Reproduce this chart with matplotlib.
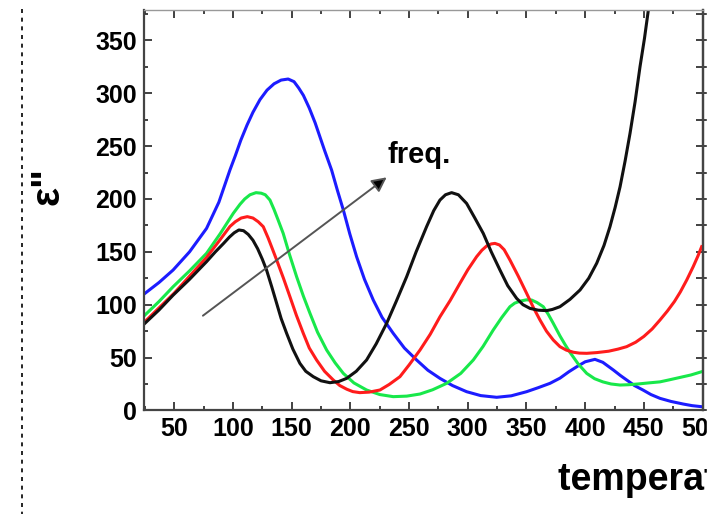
import numpy as np
import matplotlib
matplotlib.use('Agg')
import matplotlib.pyplot as plt
from matplotlib.ticker import MultipleLocator
from matplotlib.lines import Line2D
from matplotlib.patches import Rectangle

plt.rcParams['font.family'] = ['Liberation Sans', 'DejaVu Sans']
plt.rcParams['font.weight'] = 'bold'

# -------------------- Data -------------------- #
t_black = [25, 37, 49, 63, 77.5, 85, 92, 97, 101, 105, 109, 113, 117, 121, 125, 128.6,
           133, 137.2, 141, 145.7, 151, 157, 162, 168.4, 175, 182.6, 190, 196.8, 205,
           213.8, 222, 230.9, 239, 247.9, 256, 264.9, 271, 276.3, 281, 286.2, 292, 299,
           306, 313.2, 320, 327.4, 334, 341.6, 347, 353, 360, 367.2, 372, 378.5, 387,
           395.6, 403, 409.8, 416, 421.1, 425.5, 429.7, 434, 438.2, 442.5, 446.7, 450.5,
           453.8, 458]
eps_black = [82.4, 95, 109, 124, 140.7, 150, 158, 164, 168, 170.7, 170, 166.5, 161, 153,
             143, 132.8, 117, 101.3, 87, 72.9, 58, 44.5, 37, 31.9, 28, 26.2, 27.3, 30.3, 37,
             47.7, 63, 82.4, 103, 126.4, 150, 173.8, 189, 199, 204, 206, 204, 195.8,
             182, 167.4, 150, 132.8, 118, 106, 100, 96.5, 94.8, 94.4, 95.5, 98.1, 105,
             113.9, 125, 139.2, 156, 173.8, 192, 211.6, 236, 262.2, 292, 325.2, 352,
             378.8, 420]

t_red = [25, 37, 50, 63, 77.5, 88, 97.4, 102, 107, 112.2, 117, 121.5, 125.8, 130, 133.5,
         137.2, 143, 148.5, 154, 159.9, 165, 171.2, 178, 185.4, 191, 197, 202, 208, 216,
         225.2, 233, 242.2, 250, 259.3, 268, 276.3, 285, 293.3, 300, 307.5, 312, 316, 320,
         323.1, 327, 331, 335.9, 343, 350.1, 356, 361.5, 367, 372.8, 378.5, 384, 390, 395,
         401.3, 410, 420, 428, 435.3, 443, 450, 457, 463.7, 470, 476, 481, 486.5, 492, 496,
         499.2]
eps_red = [84, 97, 111, 127, 144.7, 160, 174, 178.5, 182, 183.3, 182, 178.5, 173.8, 163,
           153, 142.3, 125, 107.6, 90, 72.9, 59, 47.7, 37, 28.8, 23.5, 20, 17.8, 16.8, 17.3,
           19.3, 24.5, 31.9, 43, 57.1, 72, 88.6, 104, 120.2, 133, 145.4, 151.5, 155.5, 157.5,
           158, 156.5, 152, 142.3, 127, 110.8, 97, 85.5, 75, 66.6, 60.3, 57, 55, 54.2,
           54, 54.7, 56, 58, 60.3, 64.5, 70, 77, 85.5, 94, 103, 112, 123.4, 136, 146,
           154.9]

t_green = [25, 37, 49, 63, 77.5, 89, 100.3, 106, 110, 114.5, 119.6, 124, 127.5, 131.5, 135,
           138.5, 142.8, 148, 154.2, 160, 165.6, 172, 179.8, 187, 194, 203, 213.8, 225,
           236.5, 248, 259.3, 270, 282, 294, 304.7, 313, 321.7, 329, 335.9, 340, 345, 350,
           354.4, 359, 364.3, 368.5, 372.8, 378.5, 383, 387, 394, 401.3, 408, 415, 422,
           429.7, 437, 445, 454, 463.7, 472, 480, 490, 499.2]
eps_green = [90.2, 103, 117, 132, 148.6, 167, 186.5, 195, 200, 204, 206, 205.5, 204, 199,
             190, 180, 167.4, 148, 126.5, 108, 91.8, 74, 57.1, 45, 35, 26, 19.3, 15,
             13, 13.5, 15.5, 19.5, 25.6, 35, 47.7, 60.5, 76.1, 88, 98.1, 101.5, 103.5, 104.6,
             104.4, 102, 98.1, 91, 82.4, 70.5, 62, 55, 44, 35, 30, 27, 25,
             24, 24.3, 25, 26, 27, 29, 31, 33.5, 36.6]

t_blue = [25, 37, 49, 63, 77.5, 88, 97.4, 102, 106.7, 112, 117, 123, 129, 135, 141, 147,
          152, 156, 160, 165, 170, 174, 178, 184, 189, 194, 199.5, 205.3, 212, 219.5, 227,
          236.5, 246, 256.4, 266, 276.3, 287, 299, 311, 324.6, 337, 350.1, 360, 370, 378.5,
          386, 392.8, 400, 408.3, 415, 424, 430, 435.3, 442, 449.2, 456, 463.7, 473, 483.6,
          491, 499.2]
eps_blue = [110.7, 121, 132.8, 150, 172.2, 197, 227.4, 241, 255.7, 270, 282, 294, 303, 309,
            312.5, 313.5, 311, 305, 298, 286, 272, 259, 246, 227.4, 208, 189.6, 167, 145.4,
            124, 104.4, 88, 72.9, 59, 47.7, 38, 30.3, 23.5, 17.7, 14, 12.4, 13.8, 17.7,
            21.5, 25.6, 30.5, 36.5, 41.3, 46, 48.3, 45.5, 38.2, 33, 28.8, 23.5, 19.3, 15,
            11.4, 8.5, 6, 4.5, 3.5]

x_ticks = [50, 100, 150, 200, 250, 300, 350, 400, 450, 500]
y_ticks = [0, 50, 100, 150, 200, 250, 300, 350]

# -----------------------  Plot -------------------------- #
W, H = 718, 514
fig = plt.figure(figsize=(W / 100, H / 100), dpi=100)
ax = fig.add_axes([144.1 / W, 1 - 410.4 / H, (702.6 - 144.1) / W, (410.4 - 10) / H])

lw = 2.2
ax.plot(t_blue, eps_blue, color='#1c1cff', lw=lw, solid_joinstyle='round')
ax.plot(t_green, eps_green, color='#18e84a', lw=lw, solid_joinstyle='round')
ax.plot(t_red, eps_red, color='#ff1c1c', lw=lw, solid_joinstyle='round')
ax.plot(t_black, eps_black, color='#111111', lw=lw, solid_joinstyle='round')

ax.set_xlim(24.3, 500)
ax.set_ylim(0, 378.8)
ax.set_xticks(x_ticks)
ax.set_yticks(y_ticks)
ax.xaxis.set_minor_locator(MultipleLocator(25))
ax.yaxis.set_minor_locator(MultipleLocator(25))

ax.tick_params(which='both', direction='in', top=True, right=False, color='#333333', width=1.3)
ax.tick_params(which='major', length=5.5, labelsize=18, pad=5)
ax.tick_params(which='minor', length=3)
for lab in ax.get_xticklabels() + ax.get_yticklabels():
    lab.set_fontweight('bold')

for side in ['left', 'bottom', 'right']:
    ax.spines[side].set_color('#444444')
    ax.spines[side].set_linewidth(1.6)
ax.spines['top'].set_color('#999999')
ax.spines['top'].set_linewidth(1.0)

sec = ax.secondary_yaxis('right')
sec.set_yticks(y_ticks)
sec.yaxis.set_minor_locator(MultipleLocator(25))
sec.tick_params(which='both', direction='inout', length=10, width=1.3, color='#333333',
                labelright=False)
sec.spines['right'].set_color('#444444')
sec.spines['right'].set_linewidth(1.6)

# arrow + label
ax.annotate('', xy=(230.9, 220.5), xytext=(74.4, 89.6),
            arrowprops=dict(arrowstyle='-|>', fc='black', ec='#555555', lw=1.4,
                            mutation_scale=22, shrinkA=0, shrinkB=0))
ax.text(232, 234, 'freq.', fontsize=21, fontweight='bold', ha='left', va='baseline')

fig.text(47 / W, 1 - 186 / H, 'ε"', rotation=90, fontsize=29, fontweight='bold',
         ha='center', va='center')
fig.text(558 / W, 1 - 490 / H, 'temperature (°C)', fontsize=27, fontweight='bold',
         ha='left', va='baseline')

# dashed divider on the left
fig.add_artist(Line2D([22 / W, 22 / W], [1 - 9 / H, 0], transform=fig.transFigure,
                      color='black', lw=1.2, linestyle=(0, (2.4, 2.8))))
# cropped right border
fig.add_artist(Rectangle((707 / W, 0), 11 / W, 1, transform=fig.transFigure,
                         color='white', zorder=100))

fig.savefig('out.png', dpi=100)
